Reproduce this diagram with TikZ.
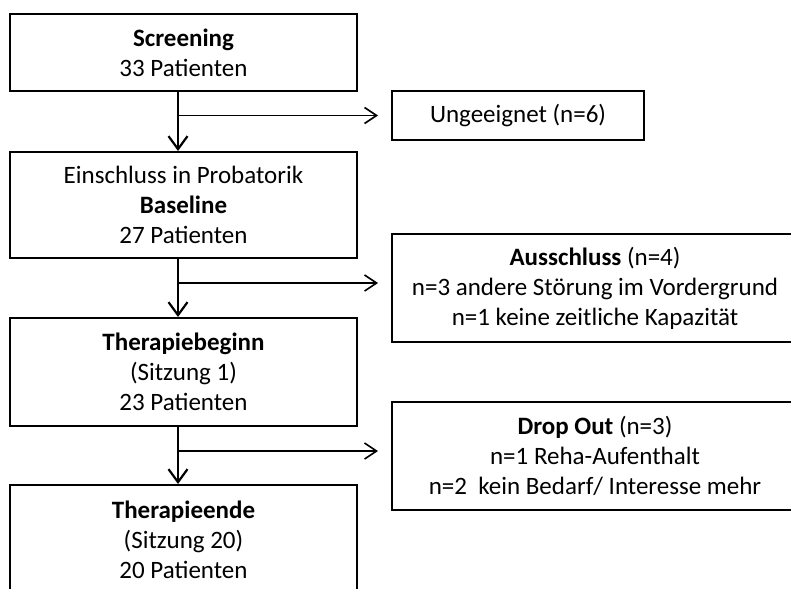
\documentclass[tikz,border=0pt]{standalone}
\usepackage{fontspec}
\setmainfont{Carlito}
\usetikzlibrary{arrows.meta}
\begin{document}
\begin{tikzpicture}[x=1pt,y=-1pt,
  box/.style={draw=black, line width=2pt, inner sep=0pt, align=center,
    font=\fontsize{25}{30}\selectfont, text=black},
  mainarr/.style={line width=2.2pt, -{Straight Barb[length=13pt,width=19pt,line width=2.2pt]}},
  sidearr/.style={line width=1.5pt, -{Straight Barb[length=12pt,width=16pt,line width=1.6pt]}, shorten >=13pt}]
\useasboundingbox (0,0) rectangle (791,588);
\clip (0,0) rectangle (791,588);
\fill[white] (0,0) rectangle (791,588);
% main column
\node[box, minimum width=347pt, minimum height=77pt] (scr) at (183.5,52.5)
  {\textbf{Screening}\\33 Patienten};
\node[box, minimum width=347pt, minimum height=106pt] (base) at (183.5,205)
  {Einschluss in Probatorik\\\textbf{Baseline}\\27 Patienten};
\node[box, minimum width=347pt, minimum height=108pt] (beg) at (183.5,372)
  {\textbf{Therapiebeginn}\\(Sitzung 1)\\23 Patienten};
\node[box, minimum width=347pt, minimum height=110pt] (end) at (183.5,540)
  {\textbf{Therapieende}\\(Sitzung 20)\\20 Patienten};
% side boxes
\node[box, minimum width=252pt, minimum height=49pt] (ung) at (518,115.5)
  {Ungeeignet (n=6)};
\node[box, minimum width=406pt, minimum height=108pt] (aus) at (595,288)
  {\textbf{Ausschluss} (n=4)\\n=3 andere Störung im Vordergrund\\n=1 keine zeitliche Kapazität};
\node[box, minimum width=406pt, minimum height=108pt] (drop) at (595,456)
  {\textbf{Drop Out} (n=3)\\n=1 Reha-Aufenthalt\\n=2~ kein Bedarf/ Interesse mehr};
% junctions
\coordinate (j1) at (178,115.5);
\coordinate (j2) at (178,283);
\coordinate (j3) at (178,451);
% connectors
\draw[mainarr] (scr.south -| j1) -- (base.north -| j1);
\draw[mainarr] (base.south -| j2) -- (beg.north -| j2);
\draw[mainarr] (beg.south -| j3) -- (end.north -| j3);
\draw[sidearr] (j1) -- (ung.west |- j1);
\draw[sidearr] (j2) -- (aus.west |- j2);
\draw[sidearr] (j3) -- (drop.west |- j3);
\end{tikzpicture}
\end{document}
